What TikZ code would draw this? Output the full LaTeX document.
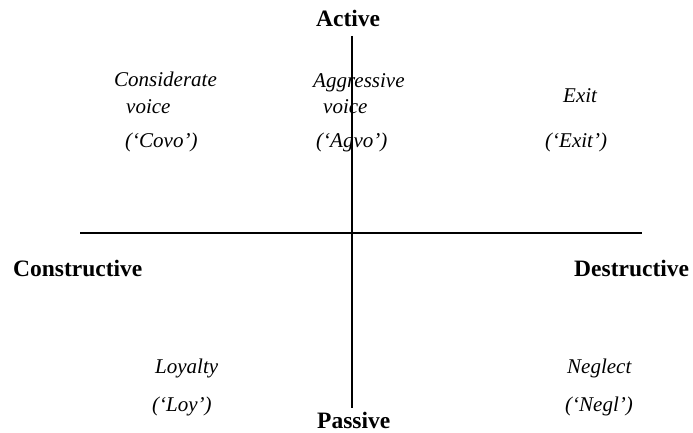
\documentclass[tikz,border=0pt]{standalone}
\usepackage{fontspec}
\setmainfont{Liberation Serif}
\tikzset{
  axislabel/.style={inner sep=0pt, anchor=base west, font=\fontsize{23.5}{28}\selectfont\bfseries},
  quadlabel/.style={inner sep=0pt, anchor=base west, font=\fontsize{21}{25}\selectfont\itshape},
  axisline/.style={line width=1.5pt}
}
\begin{document}
\begin{tikzpicture}[x=1pt,y=1pt]
\useasboundingbox (0,0) rectangle (693,432);
\def\xmid{352}
\def\ymid{199}

% axes
\coordinate (vtop) at (\xmid,396);
\coordinate (vbot) at (\xmid,24);
\coordinate (hleft) at (80,\ymid);
\coordinate (hright) at (642,\ymid);
\draw[axisline] (vtop) -- (vbot);
\draw[axisline] (hleft) -- (hright);

\node[axislabel] (active) at (316,405) {Active};
\node[axislabel] (passive) at (317,4) {Passive};
\node[axislabel] (constr) at (13,156) {Constructive};
\node[axislabel] (destr) at (574,156) {Destructive};

% top row
\node[quadlabel] (covo1) at (114,345) {Considerate};
\node[quadlabel] (covo2) at (126,319) {voice};
\node[quadlabel] (covo3) at (125,285) {(`Covo')};

\node[quadlabel] (agvo1) at (313,344) {Aggressive};
\node[quadlabel] (agvo2) at (323,319) {voice};
\node[quadlabel] (agvo3) at (316,285) {(`Agvo')};

\node[quadlabel] (exit1) at (563,330) {Exit};
\node[quadlabel] (exit2) at (545,285) {(`Exit')};

% bottom row
\node[quadlabel] (loy1) at (155,59) {Loyalty};
\node[quadlabel] (loy2) at (152,21) {(`Loy')};

\node[quadlabel] (negl1) at (567,59) {Neglect};
\node[quadlabel] (negl2) at (565,21) {(`Negl')};

\end{tikzpicture}
\end{document}
